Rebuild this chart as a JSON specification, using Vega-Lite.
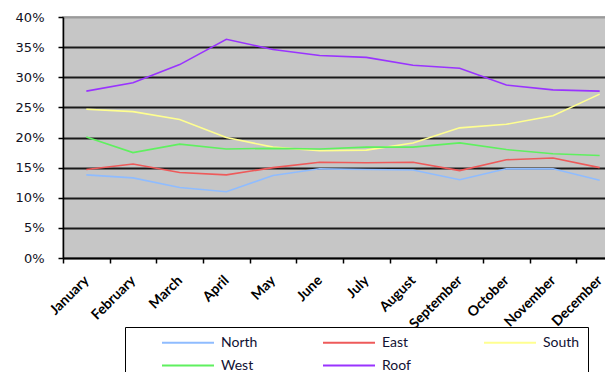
{
  "$schema": "https://vega.github.io/schema/vega-lite/v6.json",
  "width": 560,
  "height": 241,
  "autosize": {"type": "none"},
  "padding": {"left": 63, "top": 17, "right": 0, "bottom": 114},
  "background": "white",
  "config": {
    "view": {"fill": "#c6c6c6", "stroke": "#9a9a9a", "strokeWidth": 1.5}
  },
  "data": {
    "values": [
      {"month": "January", "series": "North", "value": 0.138},
      {"month": "February", "series": "North", "value": 0.133},
      {"month": "March", "series": "North", "value": 0.117},
      {"month": "April", "series": "North", "value": 0.110},
      {"month": "May", "series": "North", "value": 0.137},
      {"month": "June", "series": "North", "value": 0.148},
      {"month": "July", "series": "North", "value": 0.147},
      {"month": "August", "series": "North", "value": 0.146},
      {"month": "September", "series": "North", "value": 0.130},
      {"month": "October", "series": "North", "value": 0.148},
      {"month": "November", "series": "North", "value": 0.148},
      {"month": "December", "series": "North", "value": 0.129},
      {"month": "January", "series": "East", "value": 0.147},
      {"month": "February", "series": "East", "value": 0.156},
      {"month": "March", "series": "East", "value": 0.142},
      {"month": "April", "series": "East", "value": 0.138},
      {"month": "May", "series": "East", "value": 0.150},
      {"month": "June", "series": "East", "value": 0.159},
      {"month": "July", "series": "East", "value": 0.158},
      {"month": "August", "series": "East", "value": 0.159},
      {"month": "September", "series": "East", "value": 0.145},
      {"month": "October", "series": "East", "value": 0.163},
      {"month": "November", "series": "East", "value": 0.166},
      {"month": "December", "series": "East", "value": 0.150},
      {"month": "January", "series": "South", "value": 0.247},
      {"month": "February", "series": "South", "value": 0.243},
      {"month": "March", "series": "South", "value": 0.230},
      {"month": "April", "series": "South", "value": 0.200},
      {"month": "May", "series": "South", "value": 0.184},
      {"month": "June", "series": "South", "value": 0.178},
      {"month": "July", "series": "South", "value": 0.179},
      {"month": "August", "series": "South", "value": 0.191},
      {"month": "September", "series": "South", "value": 0.216},
      {"month": "October", "series": "South", "value": 0.222},
      {"month": "November", "series": "South", "value": 0.236},
      {"month": "December", "series": "South", "value": 0.272},
      {"month": "January", "series": "West", "value": 0.201},
      {"month": "February", "series": "West", "value": 0.175},
      {"month": "March", "series": "West", "value": 0.189},
      {"month": "April", "series": "West", "value": 0.181},
      {"month": "May", "series": "West", "value": 0.182},
      {"month": "June", "series": "West", "value": 0.181},
      {"month": "July", "series": "West", "value": 0.184},
      {"month": "August", "series": "West", "value": 0.184},
      {"month": "September", "series": "West", "value": 0.191},
      {"month": "October", "series": "West", "value": 0.180},
      {"month": "November", "series": "West", "value": 0.173},
      {"month": "December", "series": "West", "value": 0.170},
      {"month": "January", "series": "Roof", "value": 0.277},
      {"month": "February", "series": "Roof", "value": 0.291},
      {"month": "March", "series": "Roof", "value": 0.321},
      {"month": "April", "series": "Roof", "value": 0.363},
      {"month": "May", "series": "Roof", "value": 0.346},
      {"month": "June", "series": "Roof", "value": 0.336},
      {"month": "July", "series": "Roof", "value": 0.333},
      {"month": "August", "series": "Roof", "value": 0.320},
      {"month": "September", "series": "Roof", "value": 0.315},
      {"month": "October", "series": "Roof", "value": 0.287},
      {"month": "November", "series": "Roof", "value": 0.279},
      {"month": "December", "series": "Roof", "value": 0.277}
    ]
  },
  "mark": {"type": "line", "strokeWidth": 1.6, "clip": false},
  "encoding": {
    "x": {
      "field": "month",
      "type": "ordinal",
      "sort": ["January", "February", "March", "April", "May", "June", "July", "August", "September", "October", "November", "December"],
      "scale": {"type": "band", "paddingInner": 0, "paddingOuter": 0},
      "axis": {
        "title": null,
        "tickBand": "extent",
        "labelAngle": -45,
        "labelAlign": "right",
        "labelBaseline": "middle",
        "labelPadding": 15,
        "labelOffset": 0,
        "labelFont": "Lato",
        "labelFontWeight": "bold",
        "labelFontSize": 14,
        "labelColor": "black",
        "labelOverlap": false,
        "labelBound": false,
        "domainColor": "black",
        "domainWidth": 1.5,
        "tickColor": "black",
        "tickWidth": 1.5,
        "tickSize": 5,
        "grid": false
      }
    },
    "y": {
      "field": "value",
      "type": "quantitative",
      "scale": {"domain": [0, 0.4], "nice": false, "zero": true},
      "axis": {
        "title": null,
        "format": ".0%",
        "values": [0, 0.05, 0.1, 0.15, 0.2, 0.25, 0.3, 0.35, 0.4],
        "labelFont": "DejaVu Sans",
        "labelFontSize": 13,
        "labelColor": "#111122",
        "labelPadding": 14,
        "domainColor": "black",
        "domainWidth": 1.5,
        "tickColor": "black",
        "tickWidth": 1.5,
        "tickSize": 5,
        "grid": true,
        "gridColor": {"condition": {"test": "datum.value >= 0.4", "value": "#9a9a9a"}, "value": "#1a1a1a"},
        "gridWidth": 2,
        "gridOpacity": 1
      }
    },
    "color": {
      "field": "series",
      "type": "nominal",
      "sort": ["North", "East", "South", "West", "Roof"],
      "scale": {
        "domain": ["North", "East", "South", "West", "Roof"],
        "range": ["#8fbcff", "#ee5a5a", "#ffff90", "#5ff05f", "#9933ff"]
      },
      "legend": {
        "orient": "none",
        "legendX": 62,
        "legendY": 310,
        "direction": "horizontal",
        "columns": 3,
        "gridAlign": "all",
        "columnPadding": 61,
        "rowPadding": 8,
        "title": " ",
        "titleOrient": "left",
        "titleFontSize": 2,
        "titlePadding": 28,
        "padding": 8,
        "fillColor": "white",
        "strokeColor": "black",
        "symbolType": "M-1,0H7",
        "symbolSize": 169,
        "symbolStrokeWidth": 1.8,
        "labelOffset": 45,
        "labelFont": "Lato",
        "labelFontSize": 14,
        "labelColor": "#111133",
        "labelLimit": 200
      }
    }
  }
}
